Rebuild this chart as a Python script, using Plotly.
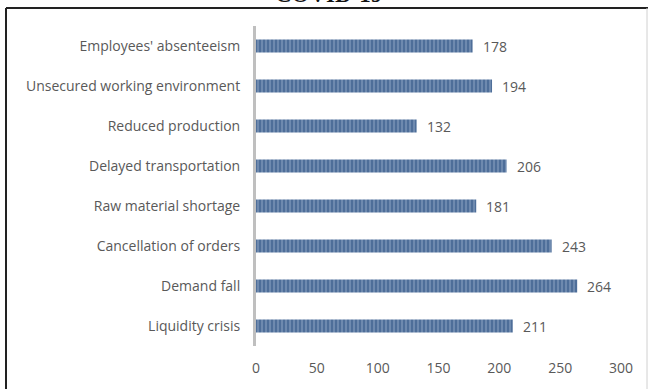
import plotly.graph_objects as go

# Problems reported during COVID-19 (number of responses)
categories = [
    "Employees' absenteeism",
    "Unsecured working environment",
    "Reduced production",
    "Delayed transportation",
    "Raw material shortage",
    "Cancellation of orders",
    "Demand fall",
    "Liquidity crisis",
]
counts = [178, 194, 132, 206, 181, 243, 264, 211]
x_ticks = [0, 50, 100, 150, 200, 250, 300]

W, H = 649, 389
ML, MR, MT, MB = 256, 28, 26, 43
pw, ph = W - ML - MR, H - MT - MB


def px_x(p):
    return (p - ML) / pw


def px_y(p):
    return 1 - (p - MT) / ph


label_font = dict(family="'Open Sans', sans-serif", size=14, color="#595959")
value_font = dict(family="'Open Sans', sans-serif", size=14, color="#595959")

fig = go.Figure(
    go.Bar(
        y=categories,
        x=counts,
        orientation="h",
        width=0.33,
        marker=dict(
            color="#4e6e99",
            line=dict(width=0),
            pattern=dict(shape="|", size=4, solidity=0.35, fgcolor="#a9bcd6", bgcolor="#4e6e99"),
        ),
        hoverinfo="skip",
    )
)

# value labels to the right of each bar
for cat, v in zip(categories, counts):
    fig.add_annotation(
        x=v, y=cat, xref="x", yref="y", text=str(v), showarrow=False,
        xanchor="left", xshift=8, font=value_font,
    )

# figure frame
frame = dict(type="line", xref="paper", yref="paper")
fig.add_shape(**frame, x0=px_x(6), x1=px_x(6), y0=px_y(8), y1=px_y(400),
              line=dict(color="#222222", width=2))
fig.add_shape(**frame, x0=px_x(6), x1=px_x(648), y0=px_y(8), y1=px_y(8),
              line=dict(color="#222222", width=2))
fig.add_shape(**frame, x0=px_x(647), x1=px_x(647), y0=px_y(8), y1=px_y(400),
              line=dict(color="#d0d0d0", width=1))

# heading above the frame (only its lower edge falls inside the page)
fig.add_annotation(
    x=0.5, y=px_y(9), xref="paper", yref="paper", text="<b>COVID-19</b>", showarrow=False,
    xanchor="center", yanchor="bottom", xshift=(328 - (ML + pw / 2)),
    font=dict(family="'Liberation Serif', serif", size=23, color="#111111"),
)

fig.update_layout(
    width=W, height=H,
    margin=dict(l=ML, r=MR, t=MT, b=MB),
    paper_bgcolor="white", plot_bgcolor="white",
    showlegend=False,
    xaxis=dict(
        range=[0, 300], tickvals=x_ticks, showgrid=False, zeroline=False,
        showline=False, ticks="", tickfont=label_font, ticklabelstandoff=12,
    ),
    yaxis=dict(
        categoryorder="array", categoryarray=categories[::-1],
        showgrid=False, zeroline=False, ticks="", tickfont=label_font,
        showline=True, linecolor="#bfbfbf", linewidth=3, ticklabelstandoff=10,
    ),
)

fig.write_html("out.html")
